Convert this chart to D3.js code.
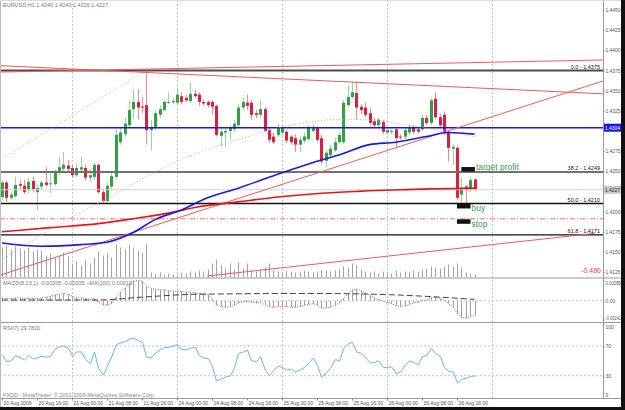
<!DOCTYPE html>
<html>
<head>
<meta charset="utf-8">
<script src="https://cdn.jsdelivr.net/npm/d3@7"></script>
<style>
body { margin: 0; background: #fff; }
svg { display: block; font-family: "Liberation Sans", Arial, sans-serif; }
</style>
</head>
<body>
<div id="chart"></div>
<script>
// ---------- data (EURUSD H1, 20-26 Aug 2009) ----------
var open = [1.4218,1.4236,1.4217,1.4219,1.4234,1.4232,1.4227,1.4238,1.4224,1.4231,
  1.4236,1.4234,1.4234,1.4249,1.4253,1.4257,1.4254,1.4245,1.4252,1.4254,
  1.4242,1.4243,1.4258,1.4224,1.4213,1.4231,1.4243,1.4286,1.4296,1.4307,
  1.4327,1.4336,1.4330,1.4332,1.4301,1.4305,1.4320,1.4326,1.4335,1.4336,
  1.4335,1.4343,1.4341,1.4337,1.4346,1.4345,1.4336,1.4336,1.4336,1.4331,
  1.4294,1.4298,1.4300,1.4302,1.4307,1.4329,1.4335,1.4335,1.4322,1.4320,
  1.4327,1.4301,1.4293,1.4295,1.4298,1.4299,1.4293,1.4291,1.4283,1.4288,
  1.4290,1.4300,1.4304,1.4291,1.4263,1.4270,1.4276,1.4286,1.4286,1.4332,
  1.4342,1.4347,1.4330,1.4329,1.4322,1.4312,1.4307,1.4311,1.4298,1.4299,
  1.4302,1.4293,1.4293,1.4298,1.4305,1.4302,1.4302,1.4316,1.4310,1.4340,
  1.4317,1.4320,1.4298,1.4278,1.4279,1.4221,1.4231,1.4227,1.4240];
var high = [1.4239,1.4238,1.4224,1.4243,1.4239,1.4239,1.4242,1.4243,1.4233,1.4239,
  1.4255,1.4248,1.4252,1.4267,1.4274,1.4264,1.4258,1.4260,1.4268,1.4258,
  1.4252,1.4260,1.4260,1.4228,1.4236,1.4249,1.4301,1.4304,1.4316,1.4338,
  1.4352,1.4352,1.4342,1.4375,1.4314,1.4326,1.4332,1.4338,1.4348,1.4341,
  1.4353,1.4348,1.4345,1.4360,1.4351,1.4348,1.4338,1.4338,1.4338,1.4333,
  1.4304,1.4304,1.4307,1.4314,1.4333,1.4341,1.4345,1.4338,1.4326,1.4338,
  1.4330,1.4304,1.4298,1.4309,1.4307,1.4301,1.4295,1.4296,1.4293,1.4298,
  1.4307,1.4309,1.4306,1.4295,1.4276,1.4283,1.4291,1.4299,1.4338,1.4357,
  1.4361,1.4361,1.4333,1.4335,1.4329,1.4316,1.4316,1.4314,1.4304,1.4302,
  1.4305,1.4296,1.4304,1.4309,1.4307,1.4305,1.4320,1.4320,1.4341,1.4348,
  1.4321,1.4324,1.4301,1.4283,1.4281,1.4242,1.4233,1.4242,1.4240];
var low = [1.4216,1.4212,1.4214,1.4217,1.4227,1.4222,1.4223,1.4224,1.4202,1.4227,
  1.4231,1.4223,1.4232,1.4245,1.4249,1.4249,1.4242,1.4243,1.4249,1.4239,
  1.4237,1.4239,1.4222,1.4211,1.4211,1.4227,1.4240,1.4283,1.4293,1.4305,
  1.4316,1.4314,1.4322,1.4283,1.4276,1.4301,1.4316,1.4324,1.4333,1.4333,
  1.4332,1.4333,1.4336,1.4335,1.4341,1.4331,1.4331,1.4329,1.4320,1.4293,
  1.4281,1.4280,1.4289,1.4299,1.4305,1.4326,1.4326,1.4314,1.4316,1.4316,
  1.4298,1.4285,1.4284,1.4293,1.4294,1.4285,1.4283,1.4274,1.4274,1.4285,
  1.4288,1.4298,1.4286,1.4259,1.4255,1.4268,1.4274,1.4284,1.4284,1.4330,
  1.4340,1.4314,1.4321,1.4317,1.4307,1.4305,1.4304,1.4296,1.4295,1.4296,
  1.4280,1.4289,1.4290,1.4295,1.4296,1.4296,1.4300,1.4307,1.4307,1.4315,
  1.4305,1.4295,1.4262,1.4258,1.4214,1.4208,1.4208,1.4224,1.4226];
var close = [1.4236,1.4217,1.4221,1.4233,1.4232,1.4224,1.4237,1.4228,1.4229,1.4236,
  1.4233,1.4235,1.4249,1.4255,1.4258,1.4253,1.4245,1.4254,1.4255,1.4242,
  1.4245,1.4258,1.4224,1.4213,1.4232,1.4244,1.4295,1.4298,1.4309,1.4326,
  1.4336,1.4329,1.4329,1.4301,1.4305,1.4322,1.4327,1.4336,1.4336,1.4337,
  1.4345,1.4336,1.4338,1.4346,1.4343,1.4336,1.4334,1.4332,1.4330,1.4295,
  1.4299,1.4300,1.4304,1.4309,1.4329,1.4336,1.4331,1.4320,1.4320,1.4327,
  1.4300,1.4289,1.4286,1.4304,1.4304,1.4288,1.4286,1.4283,1.4289,1.4293,
  1.4304,1.4304,1.4289,1.4262,1.4273,1.4278,1.4286,1.4295,1.4335,1.4342,
  1.4348,1.4329,1.4326,1.4320,1.4310,1.4307,1.4314,1.4299,1.4301,1.4300,
  1.4291,1.4292,1.4301,1.4305,1.4299,1.4299,1.4316,1.4310,1.4338,1.4317,
  1.4307,1.4298,1.4279,1.4280,1.4217,1.4229,1.4227,1.4239,1.4227];
var volume = [2700,2880,2520,2790,2610,2430,2700,2340,2520,2430,
  1980,2160,1800,1980,2250,1890,1260,1440,1080,1620,
  1260,1800,2340,1980,2160,1800,2970,2700,2520,2970,
  2700,2430,2250,3060,450,360,450,270,360,270,
  270,450,360,540,450,630,540,720,1260,1620,
  1080,810,1260,720,1350,810,1260,630,540,720,
  900,1260,630,540,450,630,540,450,540,630,
  540,450,540,720,630,540,630,720,990,900,
  1260,1080,720,540,450,540,360,540,450,360,
  630,450,540,450,630,540,720,810,990,900,
  810,990,1170,990,1260,900,450,360,270];
var macd = [0.0004,0.0003,0.0003,0.0004,0.0004,0.0003,0.0004,0.0003,0.0003,0.0004,
  0.0005,0.0006,0.0008,0.0009,0.0010,0.0009,0.0006,0.0004,0.0004,0.0003,
  0.0002,0.0003,-0.0002,-0.0006,-0.0006,-0.0004,0.0005,0.0012,0.0018,0.0023,
  0.0027,0.0028,0.0027,0.0020,0.0017,0.0016,0.0015,0.0015,0.0014,0.0013,
  0.0013,0.0013,0.0012,0.0012,0.0011,0.0010,0.0009,0.0008,0.0002,-0.0006,
  -0.0008,-0.0009,-0.0008,-0.0006,-0.0003,-0.0001,-0.0001,-0.0002,-0.0003,-0.0002,
  -0.0006,-0.0008,-0.0009,-0.0008,-0.0008,-0.0008,-0.0009,-0.0009,-0.0008,-0.0006,
  -0.0005,-0.0004,-0.0006,-0.0010,-0.0010,-0.0009,-0.0006,-0.0003,0.0003,0.0010,
  0.0015,0.0016,0.0014,0.0011,0.0007,0.0004,0.0002,-0.0001,-0.0003,-0.0004,
  -0.0007,-0.0008,-0.0007,-0.0005,-0.0003,-0.0002,0.0000,0.0001,0.0004,0.0005,
  0.0003,0.0001,-0.0004,-0.0009,-0.0018,-0.0023,-0.0024,-0.0022,-0.00205];
var rsi = [58,49,50,57,54,51,57,52.5,54,56,
  55,56,66,69,70,67,56,62,62,52,
  46,62,40,31,43,55,72,74,76,79,
  81,77,75,55,54,60,65,68,68,70,
  72,65,65,67,68,57,54,53,42,23,
  26,28,30,40,60,62,64.6,50,49,55.6,
  37,30,37,43,41,38,38.5,35,38,41,
  47,54,44,28,34,40,52,49.5,66,73,
  75,62,60,54,47,48,50,41,41,42,
  33,35,44,50,48,44.5,56,57,67,60,
  55.6,41,36,34.6,20,25,26.5,29,29.78];

// moving averages read at selected bars: [bar, value]
var maRed  = [[0,1.4175],[11,1.4180],[22,1.4185],[31,1.4192],[38,1.4198],[45,1.4206],[54,1.4212],[63,1.4218],[77,1.4224],[91,1.4227],[108,1.4229]];
var maBlue = [[0,1.4161],[9,1.4157],[18,1.4159],[24,1.4162],[30,1.4174],[35,1.4190],[41,1.4202],[47,1.4217],[54,1.4229],[64,1.4248],[73,1.4264],[77,1.4270],[84,1.4283],[90,1.4286],[97,1.4293],[102,1.4298],[108,1.4296]];
var maGray = [[0,1.4140],[15,1.4190],[25,1.4219],[35,1.4249],[49,1.4281],[54,1.4289],[61,1.4301],[69,1.4310],[77,1.4314],[81,1.4314],[88,1.4311],[93,1.4307],[102,1.4299],[108,1.4293]];
var macdMa = [[0,0.0001],[22,0.0001],[32,0.0005],[45,0.0009],[72,0.0010],[90,0.0008],[108,0.00019]];

// chart objects
var trendLines = [[[-0.46,1.4373],[137.4,1.4388]], [[-0.46,1.4381],[137.4,1.4346]],
                  [[-0.46,1.4121],[137.4,1.4362]], [[46.9,1.4120],[135.5,1.4173]]];
var fibTrend = [[-0.46,1.4264],[33,1.4375]];
var fibNames = ["0.0","38.2","50.0","61.8"];
var fibPrices = [1.4375,1.4249,1.4210,1.4171];
var bluePrice = 1.4304, stopPrice = 1.4191, bidPrice = 1.4227;
var markNames = ["target profit","buy","stop"];
var markPrices = [1.4249,1.4210,1.4191];
var markBars = [105,104,104];

var priceTicks = [1.4450,1.4425,1.4400,1.4375,1.4350,1.4325,1.4275,1.4250,1.4200,1.4175,1.4150,1.4125];
var macdTicks = [0.00285,0,-0.00241];
var macdTickLabels = ["0.00285","0.00","-0.00241"];
var rsiTicks = [100,70,30,0];
var timeTicks = [0,8,16,24,32,40,48,56,64,72,80,88,96,104];
var timeLabels = ["20 Aug 2009","20 Aug 16:00","21 Aug 00:00","21 Aug 08:00","21 Aug 16:00",
  "24 Aug 00:00","24 Aug 08:00","24 Aug 16:00","25 Aug 00:00","25 Aug 08:00","25 Aug 16:00",
  "26 Aug 00:00","26 Aug 08:00","26 Aug 16:00"];
var gridBars = [16,40,64,88,112];

// ---------- layout ----------
var width = 625, height = 410, right = 603;
var mainTop = 0, mainBot = 277.5, macdTop = 279, macdBot = 322, rsiTop = 323.5, rsiBot = 398;

var x = d3.scaleLinear().domain([0, 137.37]).range([2, right]);
var y = d3.scaleLinear().domain([1.4125, 1.4450]).range([272, 10]);
var yVol = d3.scaleLinear().domain([0, 3150]).range([mainBot, mainBot - 35]);
var yMacd = d3.scaleLinear().domain([-0.00241, 0.00285]).range([318.3, 280]);
var yRsi = d3.scaleLinear().domain([0, 100]).range([rsiBot, 323.7]);
var px = function(i){ return Math.round(x(i)); };

var svg = d3.select("#chart").append("svg")
  .attr("width", width).attr("height", height);
svg.append("rect").attr("width", width).attr("height", height).attr("fill", "#fff");

var defs = svg.append("defs");
function clip(id, y0, y1){
  defs.append("clipPath").attr("id", id).append("rect")
    .attr("x", 0).attr("y", y0).attr("width", right).attr("height", y1 - y0);
}
clip("cMain", mainTop, mainBot); clip("cMacd", macdTop, macdBot); clip("cRsi", rsiTop, rsiBot);

// grid
svg.append("g").selectAll("line").data(gridBars).enter().append("line")
  .attr("x1", d => px(d) + 0.5).attr("x2", d => px(d) + 0.5)
  .attr("y1", 0).attr("y2", rsiBot)
  .attr("stroke", "#c4c4cc").attr("stroke-dasharray", "2,2");

/************* main window ***************/
var gMain = svg.append("g").attr("clip-path", "url(#cMain)");

gMain.append("g").selectAll("line").data(volume).enter().append("line")
  .attr("x1", (d, i) => px(i) + 0.5).attr("x2", (d, i) => px(i) + 0.5)
  .attr("y1", mainBot).attr("y2", d => yVol(d))
  .attr("stroke", "#a4a4a4");

var candles = gMain.append("g");
open.forEach(function(o, i){
  var c = close[i], up = c >= o, cx = px(i);
  candles.append("line")
    .attr("x1", cx + 0.5).attr("x2", cx + 0.5)
    .attr("y1", y(high[i])).attr("y2", y(low[i]))
    .attr("stroke", up ? "#9ed29e" : "#e88d98");
  var top = y(Math.max(o, c)), h = Math.max(1, y(Math.min(o, c)) - top);
  candles.append("rect")
    .attr("x", cx - 1).attr("y", top).attr("width", 3).attr("height", h)
    .attr("fill", up ? "#32a043" : "#de1e3e");
});

// horizontal levels
function hline(g, p, color, w, dash){
  g.append("line").attr("x1", 0).attr("x2", right)
    .attr("y1", y(p)).attr("y2", y(p))
    .attr("stroke", color).attr("stroke-width", w)
    .attr("stroke-dasharray", dash || null);
}
hline(gMain, bidPrice, "#d4d4d4", 1);
hline(gMain, stopPrice, "#f07070", 1, "5,2,1,2");
var fibColors = ["#4c4c4c","#707070","#111","#111"], fibWidths = [2, 2, 1.5, 1.2];
fibPrices.forEach(function(p, k){ hline(gMain, p, fibColors[k], fibWidths[k]); });
hline(gMain, bluePrice, "#1616e6", 1.5);

var pt = d3.line().x(d => x(d[0])).y(d => y(d[1]));
gMain.append("path").attr("d", pt(fibTrend)).attr("fill", "none")
  .attr("stroke", "#b8b8b8").attr("stroke-dasharray", "1,2");
gMain.append("g").selectAll("path").data(trendLines).enter().append("path")
  .attr("d", pt).attr("fill", "none").attr("stroke", "#f05a5a").attr("stroke-width", 1);

var smooth = d3.line().x(d => x(d[0])).y(d => y(d[1])).curve(d3.curveMonotoneX);
gMain.append("path").attr("d", smooth(maGray)).attr("fill", "none")
  .attr("stroke", "#b4b4b4").attr("stroke-dasharray", "1,2");
gMain.append("path").attr("d", smooth(maRed)).attr("fill", "none")
  .attr("stroke", "#e8141e").attr("stroke-width", 1.6);
gMain.append("path").attr("d", smooth(maBlue)).attr("fill", "none")
  .attr("stroke", "#1a1ae0").attr("stroke-width", 1.6);

// fib labels
gMain.append("g").selectAll("text").data(fibPrices).enter().append("text")
  .attr("x", 600).attr("y", d => y(d) - 1.8)
  .attr("text-anchor", "end").attr("font-size", "5.5px").attr("fill", "#111")
  .text((d, k) => fibNames[k] + " - " + d3.format(".4f")(d));

// trade markers
markPrices.forEach(function(p, k){
  var bx = x(markBars[k]), above = k === 0;
  var by = above ? y(p) - 5 : y(p) + 0.5;
  gMain.append("rect").attr("x", bx).attr("y", by).attr("width", 13.5).attr("height", 4.5)
    .attr("fill", "#111");
  gMain.append("text").attr("x", bx + 14.5).attr("y", above ? y(p) - 2.5 : y(p) + 8)
    .attr("font-size", "8.5px").attr("fill", "#3c9e4a").text(markNames[k]);
});

svg.append("text").attr("x", 3).attr("y", 7).attr("font-size", "5.5px").attr("fill", "#777")
  .text("EURUSD,H1  1.4240 1.4240 1.4226 1.4227");
svg.append("text").attr("x", 601).attr("y", 273).attr("text-anchor", "end")
  .attr("font-size", "7px").attr("fill", "#f03030").text("-0.490");

/************* MACD window ***************/
var gMacd = svg.append("g").attr("clip-path", "url(#cMacd)");
gMacd.append("line").attr("x1", 0).attr("x2", right)
  .attr("y1", yMacd(0)).attr("y2", yMacd(0))
  .attr("stroke", "#c4c4cc").attr("stroke-dasharray", "2,2");
gMacd.append("g").selectAll("line").data(macd).enter().append("line")
  .attr("x1", (d, i) => px(i) + 0.5).attr("x2", (d, i) => px(i) + 0.5)
  .attr("y1", yMacd(0)).attr("y2", d => yMacd(d))
  .attr("stroke", "#a0a0a0");
gMacd.append("path")
  .attr("d", d3.line().x((d, i) => px(i) + 0.5).y(d => yMacd(d))(macd))
  .attr("fill", "none").attr("stroke", "#f04848").attr("stroke-dasharray", "1,1.5");
gMacd.append("path")
  .attr("d", d3.line().x(d => x(d[0])).y(d => yMacd(d[1])).curve(d3.curveMonotoneX)(macdMa))
  .attr("fill", "none").attr("stroke", "#444").attr("stroke-dasharray", "6,3");
svg.append("text").attr("x", 3).attr("y", 285).attr("font-size", "5.5px").attr("fill", "#777")
  .text("MACD(8,13,1) -0.00205 -0.00205  ~MA(100) 0.00019");

/************* RSI window ***************/
var gRsi = svg.append("g").attr("clip-path", "url(#cRsi)");
[70, 30].forEach(function(v){
  gRsi.append("line").attr("x1", 0).attr("x2", right)
    .attr("y1", yRsi(v)).attr("y2", yRsi(v))
    .attr("stroke", "#c4c4cc").attr("stroke-dasharray", "2,2");
});
gRsi.append("path")
  .attr("d", d3.line().x((d, i) => px(i) + 0.5).y(d => yRsi(d))(rsi))
  .attr("fill", "none").attr("stroke", "#68b4fa").attr("stroke-width", 1);
svg.append("text").attr("x", 3).attr("y", 330).attr("font-size", "5.5px").attr("fill", "#777")
  .text("RSI(7) 29.7820");
svg.append("text").attr("x", 3).attr("y", 396.5).attr("font-size", "5.5px").attr("fill", "#888")
  .text("FXDD - MetaTrader, \u00a9 2001-2009 MetaQuotes Software Corp.");

/************* separators, axes, frame ***************/
[mainBot + 0.5, macdBot + 0.5, rsiBot + 0.5].forEach(function(v){
  svg.append("line").attr("x1", 0).attr("x2", 621).attr("y1", v).attr("y2", v)
    .attr("stroke", "#9a9a9a");
});
svg.append("line").attr("x1", right + 0.5).attr("x2", right + 0.5)
  .attr("y1", 0).attr("y2", rsiBot).attr("stroke", "#9a9a9a");

function styleAxis(g){
  g.select(".domain").remove();
  g.selectAll(".tick line").attr("stroke", "#888");
  g.selectAll(".tick text").attr("font-size", "5px").attr("fill", "#555")
    .attr("font-family", "Liberation Sans, Arial, sans-serif");
}
function squeeze(g, w){
  g.selectAll(".tick text").attr("textLength", w).attr("lengthAdjust", "spacingAndGlyphs");
}
svg.append("g").attr("transform", "translate(" + right + ",0)")
  .call(d3.axisRight(y).tickValues(priceTicks).tickSize(1.5).tickPadding(1).tickFormat(d3.format(".4f")))
  .call(styleAxis)
  .call(squeeze, 15);
svg.append("g").attr("transform", "translate(" + right + ",0)")
  .call(d3.axisRight(yMacd).tickValues(macdTicks).tickSize(1.5).tickPadding(1)
    .tickFormat((d, i) => macdTickLabels[i]))
  .call(styleAxis)
  .call(g => g.selectAll(".tick text").filter(d => d > 0).attr("dy", "0.9em"))
  .call(g => g.selectAll(".tick text").filter(d => d !== 0).attr("textLength", 15.5).attr("lengthAdjust", "spacingAndGlyphs"));
svg.append("g").attr("transform", "translate(" + right + ",0)")
  .call(d3.axisRight(yRsi).tickValues(rsiTicks).tickSize(1.5).tickPadding(1))
  .call(styleAxis)
  .call(g => g.selectAll(".tick text").attr("dy", d => d === 100 ? "0.9em" : d === 0 ? "-0.3em" : "0.32em"));

// price boxes on the scale
[[bluePrice, "#1616e6", "#fff"], [bidPrice, "#c8c8c8", "#333"]].forEach(function(b){
  svg.append("rect").attr("x", right + 1).attr("y", y(b[0]) - 4).attr("width", 17.5).attr("height", 8)
    .attr("fill", b[1]);
  svg.append("text").attr("x", right + 2).attr("y", y(b[0]) + 2)
    .attr("font-size", "5px").attr("fill", b[2])
    .attr("textLength", 15).attr("lengthAdjust", "spacingAndGlyphs")
    .text(d3.format(".4f")(b[0]));
});

var tAxis = svg.append("g").attr("transform", "translate(0," + (rsiBot + 0.5) + ")")
  .call(d3.axisBottom(x).tickValues(timeTicks).tickSize(2).tickPadding(1)
    .tickFormat((d, i) => timeLabels[i]))
  .call(styleAxis);
tAxis.selectAll(".tick text").attr("text-anchor", "start").attr("dx", "1");

// window frame
svg.append("rect").attr("x", 621).attr("y", 0).attr("width", 4).attr("height", height).attr("fill", "#111");
svg.append("rect").attr("x", 0).attr("y", 407).attr("width", width).attr("height", 3).attr("fill", "#111");
svg.append("line").attr("x1", 0.5).attr("x2", 0.5).attr("y1", 0).attr("y2", 407).attr("stroke", "#bbb");
svg.append("line").attr("x1", 0).attr("x2", 621).attr("y1", 0.5).attr("y2", 0.5).attr("stroke", "#ddd");
</script>
</body>
</html>
